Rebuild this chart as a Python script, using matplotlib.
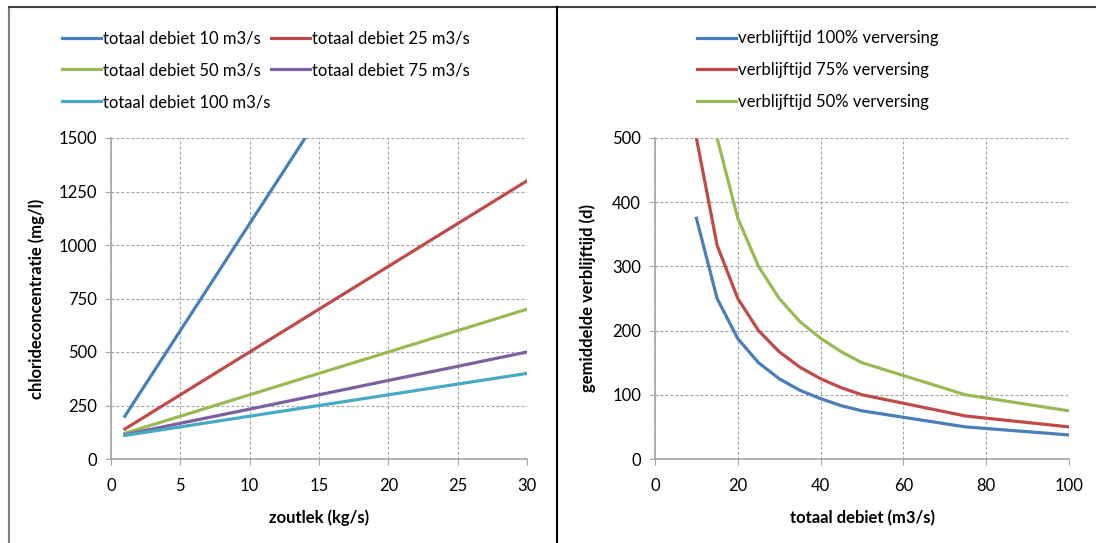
import matplotlib.pyplot as plt
from matplotlib.lines import Line2D

plt.rcParams['font.family'] = ['Lato', 'DejaVu Sans']

# left chart: chloride concentration vs salt leak
zoutlek = [1, 5, 10, 15, 20, 25, 30]
zoutlek_10 = [1, 5, 10, 14]
conc_10 = [200, 600, 1100, 1500]
conc_25 = [140, 300, 500, 700, 900, 1100, 1300]
conc_50 = [120, 200, 300, 400, 500, 600, 700]
conc_75 = [113, 167, 233, 300, 367, 433, 500]
conc_100 = [110, 150, 200, 250, 300, 350, 400]

# right chart: residence time vs total flow
debiet = [10, 15, 20, 25, 30, 35, 40, 45, 50, 75, 100]
tijd_100 = [375, 250, 187.5, 150, 125, 107, 94, 83, 75, 50, 37.5]
tijd_75 = [500, 333, 250, 200, 167, 143, 125, 111, 100, 67, 50]
tijd_50 = [750, 500, 375, 300, 250, 214, 188, 167, 150, 100, 75]

blue = '#4A7EBB'
red = '#BE4B48'
green = '#98B954'
purple = '#7D60A0'
cyan = '#46AAC5'

W, H = 1096, 543
fig = plt.figure(figsize=(W / 100, H / 100), dpi=100)

ax1 = fig.add_axes([111 / W, 1 - 459 / H, (527 - 111) / W, (459 - 138) / H])
ax2 = fig.add_axes([655 / W, 1 - 459 / H, (1069 - 655) / W, (459 - 138) / H])

lw = 2.3
l10, = ax1.plot(zoutlek_10, conc_10, color=blue, lw=lw, label='totaal debiet 10 m3/s')
l25, = ax1.plot(zoutlek, conc_25, color=red, lw=lw, label='totaal debiet 25 m3/s')
l50, = ax1.plot(zoutlek, conc_50, color=green, lw=lw, label='totaal debiet 50 m3/s')
l75, = ax1.plot(zoutlek, conc_75, color=purple, lw=lw, label='totaal debiet 75 m3/s')
l100, = ax1.plot(zoutlek, conc_100, color=cyan, lw=lw, label='totaal debiet 100 m3/s')
ax1.set_xlim(0, 30)
ax1.set_ylim(0, 1500)
ax1.set_xticks(range(0, 31, 5))
ax1.set_yticks(range(0, 1501, 250))
ax1.set_xlabel('zoutlek (kg/s)', fontweight='bold', fontsize=12, labelpad=11)
ax1.set_ylabel('chlorideconcentratie (mg/l)', fontweight='bold', fontsize=12, labelpad=10)

ax2.plot(debiet, tijd_100, color=blue, lw=lw, label='verblijftijd 100% verversing')
ax2.plot(debiet, tijd_75, color=red, lw=lw, label='verblijftijd 75% verversing')
ax2.plot(debiet, tijd_50, color=green, lw=lw, label='verblijftijd 50% verversing')
ax2.set_xlim(0, 100)
ax2.set_ylim(0, 500)
ax2.set_xticks(range(0, 101, 20))
ax2.set_yticks(range(0, 501, 100))
ax2.set_xlabel('totaal debiet (m3/s)', fontweight='bold', fontsize=12, labelpad=11)
ax2.set_ylabel('gemiddelde verblijftijd (d)', fontweight='bold', fontsize=12, labelpad=12)

for ax in (ax1, ax2):
    for s in ('top', 'right'):
        ax.spines[s].set_visible(False)
    for s in ('left', 'bottom'):
        ax.spines[s].set_color('#A6A6A6')
        ax.spines[s].set_linewidth(1.2)
    ax.grid(True, linestyle=(0, (2.5, 2)), color='#A0A0A0', linewidth=0.8)
    ax.set_axisbelow(True)
    ax.tick_params(direction='out', length=4, color='#A6A6A6', labelsize=12)
    ax.tick_params(axis='x', pad=10)
    ax.tick_params(axis='y', pad=6)

# legend filled row by row like the original
ax1.legend([l10, l50, l100, l25, l75],
           [l.get_label() for l in (l10, l50, l100, l25, l75)],
           ncol=2, loc='upper left', bbox_to_anchor=(54 / W, 1 - 22 / H),
           bbox_transform=fig.transFigure, frameon=False, fontsize=12,
           handlelength=2.3, handletextpad=0.15, columnspacing=0.05,
           labelspacing=0.95, borderpad=0)
ax2.legend(loc='upper left', bbox_to_anchor=(689 / W, 1 - 22 / H),
           bbox_transform=fig.transFigure, frameon=False, fontsize=12,
           handlelength=2.3, handletextpad=0.15, labelspacing=0.95, borderpad=0)

# panel borders
fig.add_artist(Line2D([9 / W, 9 / W], [0, 1 - 7 / H], color='#7F7F7F', lw=1.5))
fig.add_artist(Line2D([9 / W, 1], [1 - 7 / H, 1 - 7 / H], color='#404040', lw=1.5))
fig.add_artist(Line2D([557 / W, 557 / W], [0, 1 - 7 / H], color='black', lw=1.5))

fig.savefig('out.png', dpi=100)
